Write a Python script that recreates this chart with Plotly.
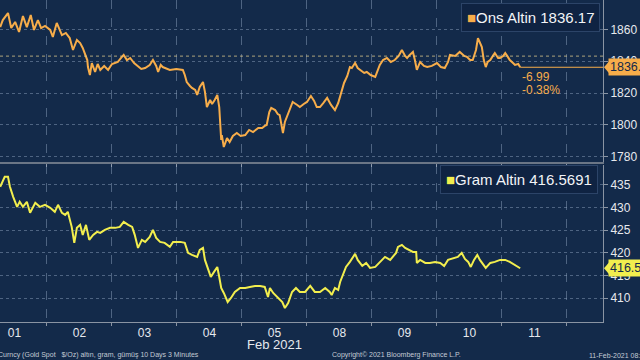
import plotly.graph_objects as go

# ---- data (trading-day position, price) ----
day_labels = ["01", "02", "03", "04", "05", "08", "09", "10", "11"]
day_pos = [0, 1, 2, 3, 4, 5, 6, 7, 8]
day_bounds = [0.5, 1.5, 2.5, 3.5, 4.5, 5.5, 6.5, 7.5, 8.5]

ons_t = [-0.22, -0.18, -0.10, -0.05, 0.01, 0.07, 0.13, 0.19, 0.25, 0.30, 0.36, 0.41, 0.47, 0.55, 0.59, 0.65,
         0.73, 0.79, 0.85, 0.90, 0.96, 1.01, 1.05, 1.08, 1.12, 1.13, 1.16, 1.19, 1.24, 1.28, 1.32, 1.38,
         1.44, 1.50, 1.59, 1.64, 1.68, 1.73, 1.78, 1.84, 1.88, 1.95, 2.01, 2.08, 2.13, 2.18, 2.21, 2.25,
         2.28, 2.35, 2.39, 2.49, 2.59, 2.62, 2.65, 2.70, 2.73, 2.78, 2.81, 2.85, 2.90, 2.93, 2.96, 3.01,
         3.04, 3.08, 3.12, 3.15, 3.18, 3.19, 3.22, 3.27, 3.31, 3.36, 3.42, 3.48, 3.55, 3.61, 3.67, 3.75,
         3.81, 3.85, 3.88, 3.92, 3.95, 4.01, 4.05, 4.08, 4.13, 4.16, 4.19, 4.24, 4.28, 4.35, 4.39, 4.45,
         4.50, 4.56, 4.61, 4.65, 4.70, 4.75, 4.81, 4.87, 4.93, 4.98, 5.01, 5.04, 5.07, 5.12, 5.16, 5.19,
         5.24, 5.28, 5.32, 5.38, 5.42, 5.48, 5.55, 5.59, 5.62, 5.67, 5.73, 5.79, 5.85, 5.91, 5.96, 6.01,
         6.04, 6.08, 6.13, 6.16, 6.19, 6.24, 6.30, 6.35, 6.42, 6.50, 6.56, 6.62, 6.67, 6.70, 6.78, 6.85,
         6.92, 6.96, 7.01, 7.05, 7.10, 7.13, 7.16, 7.19, 7.22, 7.25, 7.28, 7.32, 7.36, 7.39, 7.44, 7.47,
         7.52, 7.55, 7.59, 7.62, 7.67, 7.70, 7.75, 7.78]
ons_v = [1861.4, 1865.8, 1870.2, 1860.8, 1864.6, 1858.3, 1868.3, 1861.4, 1869.0, 1859.6, 1865.8, 1860.8,
         1862.1, 1859.6, 1855.2, 1864.0, 1856.4, 1857.7, 1854.5, 1847.0, 1853.3, 1851.4, 1848.3, 1845.1,
         1840.7, 1836.3, 1831.3, 1838.8, 1833.2, 1838.2, 1834.5, 1837.0, 1834.5, 1838.2, 1839.5, 1842.0,
         1843.9, 1840.7, 1842.0, 1838.8, 1837.6, 1835.1, 1835.7, 1837.6, 1840.7, 1837.0, 1833.2, 1837.6,
         1836.3, 1835.1, 1834.5, 1835.1, 1834.5, 1831.3, 1826.9, 1824.4, 1823.2, 1821.9, 1818.8, 1823.8,
         1826.9, 1820.7, 1811.2, 1815.6, 1813.1, 1815.6, 1818.8, 1811.2, 1790.5, 1793.6, 1786.1, 1791.7,
         1789.2, 1793.0, 1794.9, 1793.0, 1793.6, 1796.8, 1795.5, 1798.0, 1798.0, 1799.3, 1799.9, 1808.0,
         1810.6, 1809.3, 1806.8, 1806.1, 1794.9, 1801.8, 1804.9, 1809.3, 1814.4, 1812.5, 1811.2, 1813.1,
         1814.4, 1818.1, 1815.0, 1811.2, 1811.2, 1813.7, 1816.9, 1812.5, 1809.3, 1813.7, 1817.5, 1821.9,
         1826.3, 1830.7, 1836.3, 1835.7, 1838.8, 1835.7, 1834.5, 1832.6, 1833.2, 1831.3, 1830.1, 1834.5,
         1837.6, 1840.7, 1842.0, 1839.5, 1840.7, 1843.3, 1847.0, 1843.3, 1842.0, 1843.9, 1845.8, 1840.7,
         1834.5, 1839.5, 1837.0, 1836.3, 1837.0, 1838.8, 1836.3, 1835.7, 1839.5, 1843.9, 1843.3, 1845.8,
         1843.3, 1842.7, 1840.7, 1840.7, 1847.0, 1854.5, 1852.0, 1848.9, 1840.7, 1836.3, 1839.5, 1840.7,
         1843.3, 1845.1, 1842.0, 1842.0, 1843.3, 1845.1, 1842.7, 1840.7, 1838.8, 1837.6, 1838.2, 1836.17]

gram_t = [-0.22, -0.15, -0.10, -0.07, -0.02, 0.04, 0.08, 0.13, 0.19, 0.24, 0.32, 0.39, 0.47, 0.55, 0.62,
          0.67, 0.73, 0.78, 0.82, 0.88, 0.92, 0.96, 1.01, 1.05, 1.10, 1.15, 1.21, 1.27, 1.32, 1.39, 1.47,
          1.55, 1.62, 1.68, 1.75, 1.81, 1.85, 1.90, 1.96, 2.01, 2.08, 2.13, 2.18, 2.24, 2.31, 2.39, 2.44,
          2.55, 2.62, 2.67, 2.73, 2.81, 2.85, 2.90, 2.93, 2.98, 3.02, 3.07, 3.12, 3.15, 3.18, 3.22, 3.28,
          3.33, 3.39, 3.47, 3.55, 3.62, 3.70, 3.78, 3.85, 3.90, 3.93, 3.98, 4.04, 4.12, 4.16, 4.21, 4.27,
          4.33, 4.39, 4.47, 4.55, 4.62, 4.70, 4.78, 4.85, 4.88, 4.93, 4.98, 5.01, 5.05, 5.10, 5.16, 5.21,
          5.24, 5.28, 5.35, 5.41, 5.47, 5.55, 5.62, 5.70, 5.78, 5.82, 5.87, 5.90, 5.96, 6.01, 6.07, 6.13,
          6.18, 6.19, 6.24, 6.32, 6.39, 6.47, 6.55, 6.61, 6.67, 6.75, 6.82, 6.88, 6.93, 6.98, 7.02, 7.07,
          7.12, 7.16, 7.21, 7.25, 7.32, 7.39, 7.47, 7.55, 7.62, 7.70, 7.75, 7.78]
gram_v = [434.56, 436.77, 436.77, 434.56, 432.35, 430.13, 431.24, 430.13, 431.24, 428.81, 431.02, 430.13,
          430.58, 429.91, 429.03, 430.58, 428.81, 428.36, 429.03, 425.71, 422.17, 425.49, 426.15, 423.94,
          426.15, 422.83, 423.94, 424.60, 424.38, 425.05, 425.49, 425.49, 425.71, 426.82, 426.15, 425.71,
          423.94, 421.06, 422.83, 422.39, 423.50, 425.05, 423.28, 422.39, 422.17, 421.29, 422.39, 422.39,
          422.17, 419.96, 419.52, 419.07, 420.62, 421.06, 418.41, 416.20, 414.65, 415.76, 416.86, 414.65,
          412.22, 411.11, 409.12, 410.00, 411.33, 412.22, 412.22, 412.44, 412.66, 412.66, 412.44, 410.23,
          412.22, 411.11, 410.23, 409.12, 407.79, 408.90, 411.33, 412.22, 411.33, 411.33, 412.66, 411.33,
          411.33, 412.22, 411.33, 410.67, 412.22, 411.77, 413.54, 415.09, 416.86, 417.97, 419.07, 419.74,
          418.41, 417.08, 417.75, 416.64, 416.86, 417.97, 419.07, 418.41, 419.07, 419.96, 421.29, 421.73,
          421.06, 420.62, 420.18, 420.18, 417.75, 418.41, 417.75, 417.75, 417.97, 417.75, 417.08, 418.41,
          418.85, 419.07, 419.96, 418.63, 417.97, 416.86, 418.41, 419.52, 418.41, 417.30, 416.64, 417.75,
          417.97, 418.41, 418.41, 417.97, 417.30, 416.86, 416.5691]

ons_last = 1836.17
ons_prev_close = 1843.16
ons_change = "-6.99"
ons_change_pct = "-0.38%"
gram_last = 416.5691

ons_ticks = [1780, 1800, 1820, 1840, 1860]
gram_ticks = [410, 415, 420, 425, 430, 435]

# ---- style ----
BG = "#132a4a"
ORANGE = "#f7ad4a"
YELLOW = "#f2ee4e"
GRID = "rgba(150,170,200,0.45)"
AXIS = "#8a94a3"
TXT = "#e6e9ee"
FONT = "Arial, Liberation Sans, sans-serif"

fig = go.Figure()
fig.add_trace(go.Scatter(x=ons_t, y=ons_v, mode="lines", line=dict(color=ORANGE, width=2),
                         xaxis="x", yaxis="y", showlegend=False, hoverinfo="skip"))
fig.add_trace(go.Scatter(x=gram_t, y=gram_v, mode="lines", line=dict(color=YELLOW, width=2),
                         xaxis="x2", yaxis="y2", showlegend=False, hoverinfo="skip"))

xr = [-0.223, 9.054]
minor = dict(tickvals=day_bounds, showgrid=True, gridcolor=GRID, griddash="dash", gridwidth=1,
             ticks="outside", ticklen=3, tickcolor=AXIS)

fig.update_layout(
    width=640, height=360,
    margin=dict(l=0, r=37, t=0, b=38),
    paper_bgcolor=BG, plot_bgcolor=BG,
    font=dict(family=FONT, color=TXT, size=12),
    xaxis=dict(domain=[0, 1], range=xr, anchor="y", showticklabels=False, showgrid=False,
               tickvals=day_pos, ticks="", zeroline=False, showline=True, linecolor="#6b7686",
               linewidth=2, minor=minor),
    xaxis2=dict(domain=[0, 1], range=xr, anchor="y2", matches="x", tickvals=day_pos, ticktext=day_labels,
                showgrid=False, ticks="", zeroline=False, showline=True, linecolor=AXIS, linewidth=1,
                tickfont=dict(size=12, color=TXT), minor=minor),
    yaxis=dict(domain=[0.497, 1], range=[1776.7, 1878.4], side="right", anchor="x",
               tickvals=ons_ticks, showgrid=True, gridcolor=GRID, griddash="dot", zeroline=False,
               showline=True, linecolor=AXIS, ticks="outside", ticklen=4, tickcolor=AXIS,
               tickfont=dict(size=12, color=TXT)),
    yaxis2=dict(domain=[0, 0.488], range=[404.7, 439.4], side="right", anchor="x2",
                tickvals=gram_ticks, showgrid=True, gridcolor=GRID, griddash="dot", zeroline=False,
                showline=True, linecolor=AXIS, ticks="outside", ticklen=4, tickcolor=AXIS,
                tickfont=dict(size=12, color=TXT)),
)

# previous close dotted line and last price line
fig.add_shape(type="line", xref="paper", x0=0, x1=1, yref="y", y0=ons_prev_close, y1=ons_prev_close,
              line=dict(color="rgba(225,205,140,0.75)", width=1, dash="dot"))
fig.add_shape(type="line", xref="x", x0=ons_t[-1], x1=xr[1], yref="y", y0=ons_last, y1=ons_last,
              line=dict(color=ORANGE, width=1))

# price tags on the right axis
for val, yref, col in [(ons_last, "y", ORANGE), (gram_last, "y2", YELLOW)]:
    fig.add_shape(type="path", xref="paper", yref=yref, xsizemode="pixel", ysizemode="pixel",
                  xanchor=1, yanchor=val, path="M1,0 L7,7 L7,-7 Z", fillcolor=col, line=dict(width=0))
fig.add_annotation(xref="paper", x=1, xanchor="left", xshift=5, yref="y", y=ons_last, yanchor="middle",
                   text=f"{ons_last:.2f}", showarrow=False, bgcolor=ORANGE, borderpad=1,
                   font=dict(size=12.5, color="#132a4a"))
fig.add_annotation(xref="paper", x=1, xanchor="left", xshift=5, yref="y2", y=gram_last, yanchor="middle",
                   text=f"{gram_last:.4f}", showarrow=False, bgcolor=YELLOW, borderpad=1,
                   font=dict(size=12.5, color="#132a4a"))

# change texts
fig.add_annotation(xref="x", x=ons_t[-1], xanchor="left", xshift=0, yref="y", y=ons_last, yshift=-10,
                   text=ons_change, showarrow=False, font=dict(size=12, color=ORANGE))
fig.add_annotation(xref="x", x=ons_t[-1], xanchor="left", xshift=0, yref="y", y=ons_last, yshift=-23,
                   text=ons_change_pct, showarrow=False, font=dict(size=12, color=ORANGE))

# legend boxes
fig.add_annotation(xref="paper", x=0.995, xanchor="right", yref="paper", y=0.991, yanchor="top",
                   text=f"<span style='color:{ORANGE}'>■</span>Ons Altin {ons_last:.2f}",
                   showarrow=False, bgcolor="#0f2342", bordercolor="#2c4468", borderwidth=1, borderpad=5,
                   font=dict(size=15, color="#f2f4f7"))
fig.add_annotation(xref="paper", x=0.992, xanchor="right", yref="paper", y=0.4876, yanchor="top",
                   text=f"<span style='color:{YELLOW}'>■</span>Gram Altin {gram_last:.4f}",
                   showarrow=False, bgcolor="#0f2342", bordercolor="#2c4468", borderwidth=1, borderpad=5,
                   font=dict(size=15, color="#f2f4f7"))

# month label and footer
fig.add_annotation(xref="x2", x=4, yref="paper", y=0, yshift=-22, yanchor="middle", text="Feb 2021",
                   showarrow=False, font=dict(size=13, color=TXT))
FOOT = "#c3cad5"
fig.add_annotation(xref="paper", x=0, xanchor="left", xshift=-4, yref="paper", y=0, yshift=-33,
                   yanchor="middle", text="Curncy (Gold Spot   $/Oz) altın, gram, gümüş 10 Days 3 Minutes",
                   showarrow=False, font=dict(size=7, color=FOOT))
fig.add_annotation(xref="paper", x=330 / 603, xanchor="left", yref="paper", y=0, yshift=-33,
                   yanchor="middle", text="Copyright© 2021 Bloomberg Finance L.P.",
                   showarrow=False, font=dict(size=7, color=FOOT))
fig.add_annotation(xref="paper", x=587 / 603, xanchor="left", yref="paper", y=0, yshift=-33,
                   yanchor="middle", text="11-Feb-2021 08:30",
                   showarrow=False, font=dict(size=7, color=FOOT))

fig.write_html("out.html", config={"displayModeBar": False},
               post_script="document.body.style.margin='0px';")
